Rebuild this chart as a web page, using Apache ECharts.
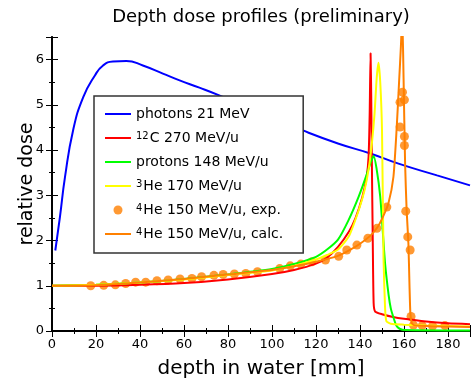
<!DOCTYPE html>
<html>
<head>
<meta charset="utf-8">
<script src="https://cdn.jsdelivr.net/npm/echarts@6/dist/echarts.min.js"></script>
<style>html,body{margin:0;padding:0;background:#fff}#c{width:471px;height:381px}</style>
</head>
<body>
<div id="c"></div>
<script>
// depth [mm], relative dose
const photons = [[1.5,1.78],[3.6,2.52],[5.9,3.4],[9.6,4.44],[14.2,5.17],[19.5,5.65],[23.2,5.87],[27.7,5.96],[33.8,5.97],[41.3,5.87],[50.4,5.69],[58,5.54],[67,5.38],[76,5.21],[90,4.92],[100,4.72],[113.7,4.44],[130.3,4.14],[145,3.92],[157.5,3.70],[175,3.44],[190,3.22]];
const carbon = [[0,1.0],[20,1.0],[40,1.02],[60,1.06],[80,1.14],[100,1.26],[110,1.35],[120,1.49],[125,1.62],[130,1.86],[135,2.2],[138,2.5],[141,2.95],[143,3.4],[143.9,3.85],[144.4,4.8],[144.8,6.14],[145.1,5.2],[145.4,3.7],[145.8,2.0],[146.2,0.62],[146.9,0.43],[150,0.37],[155,0.31],[160,0.27],[170,0.21],[180,0.17],[190,0.15]];
const protons = [[0,1.0],[20,1.02],[40,1.07],[60,1.15],[80,1.25],[100,1.37],[110,1.48],[120,1.64],[125,1.8],[130,2.02],[134.8,2.45],[139.4,2.97],[143,3.45],[145,3.75],[146.2,3.87],[147.5,3.6],[149.2,2.97],[150.5,2.1],[151.4,1.49],[153,0.8],[154,0.5],[155.2,0.3],[156.5,0.12],[158,0.05],[160.5,0.02],[190,0.01]];
const helium3 = [[0,1.0],[20,1.02],[40,1.07],[60,1.14],[80,1.24],[100,1.34],[110,1.44],[120,1.58],[125,1.68],[130,1.8],[135,2.1],[139.4,2.67],[142,3.1],[144,3.6],[145.5,4.2],[146.6,4.8],[147.6,5.6],[148.4,5.93],[149.2,5.5],[150,4.44],[150.7,1.6],[151.4,0.5],[152,0.22],[154,0.16],[160,0.14],[170,0.12],[180,0.11],[190,0.1]];
const helium4Exp = [[17.6,1.0],[23.5,1.01],[28.8,1.02],[33.5,1.05],[38,1.08],[42.6,1.08],[47.7,1.11],[52.8,1.13],[58.2,1.15],[63.6,1.16],[68,1.2],[73.6,1.23],[77.8,1.25],[82.9,1.26],[88.1,1.27],[93.4,1.31],[103.5,1.38],[108.3,1.44],[113.1,1.48],[118.2,1.53],[124.3,1.57],[130.3,1.65],[134,1.79],[138.6,1.9],[143.6,2.05],[147.7,2.27],[152.2,2.74],[158.2,4.51],[158.2,5.06],[159.3,5.28],[160.2,5.11],[160.2,4.3],[160.2,4.1],[160.8,2.65],[161.7,2.08],[162.8,1.79],[163.2,0.32],[164.3,0.13],[168.3,0.12],[173,0.11],[178.6,0.12]];
const helium4Calc = [[0,1.0],[20,1.01],[40,1.07],[60,1.15],[80,1.25],[100,1.35],[110,1.43],[120,1.53],[130,1.66],[135,1.78],[140,1.93],[145,2.12],[148,2.3],[150,2.48],[152.9,2.82],[155.2,3.41],[156.7,4.51],[157.8,5.54],[158.6,6.3],[159.2,7.0],[159.8,5.6],[160.5,3.7],[161.2,2.67],[162,1.94],[162.5,1.0],[162.9,0.39],[163.5,0.18],[164.5,0.13],[170,0.11],[180,0.10],[190,0.09]];

const seriesNames = ['photons 21 MeV','12C 270 MeV/u','protons 148 MeV/u','3He 170 MeV/u','4He 150 MeV/u, exp.','4He 150 MeV/u, calc.'];
const xTicks = [0,20,40,60,80,100,120,140,160,180];
const yTicks = [0,1,2,3,4,5,6];

const FONT = 'DejaVu Sans';
const chart = echarts.init(document.getElementById('c'), null, {renderer:'canvas'});
const axLine = {show:true, lineStyle:{color:'#000', width:1.5}};
function xAx(pos, interval, len, labels){
  return {type:'value', position:pos, min:0, max:190, interval:interval,
    axisLine:axLine, splitLine:{show:false},
    axisTick:{show:true, inside:true, length:len, lineStyle:{color:'#000', width:1}},
    axisLabel:{show:labels, margin:7, color:'#000', fontSize:13, fontFamily:FONT,
      formatter:v => xTicks.indexOf(v) >= 0 ? String(v) : ''},
    name: labels ? 'depth in water [mm]' : '', nameLocation:'middle', nameGap:28, nameMoveOverlap:false,
    nameTextStyle:{color:'#000', fontSize:20, fontFamily:FONT}};
}
function yAx(pos, interval, len, labels){
  return {type:'value', position:pos, min:0, max:6.5, interval:interval,
    axisLine:axLine, splitLine:{show:false},
    axisTick:{show:true, inside:true, length:len, lineStyle:{color:'#000', width:1}},
    axisLabel:{show:labels, margin:8, color:'#000', fontSize:13, fontFamily:FONT,
      formatter:v => yTicks.indexOf(v) >= 0 ? String(v) : ''},
    name: labels ? 'relative dose' : '', nameLocation:'middle', nameGap:15, nameMoveOverlap:false,
    nameTextStyle:{color:'#000', fontSize:19, fontFamily:FONT}};
}
function line(name, data, color, sm){
  return {name:name, type:'line', data:data, symbol:'none', smooth:sm,
    lineStyle:{color:color, width:2}, itemStyle:{color:color}, xAxisIndex:0, yAxisIndex:0, clip:true};
}
const legendData = seriesNames.map((n, i) => i === 4 ? {name:n} : {name:n, itemStyle:{opacity:0}});
chart.setOption({
  animation:false,
  backgroundColor:'#fff',
  title:{text:'Depth dose profiles (preliminary)', left:261, top:8, textAlign:'center', padding:0,
    textStyle:{color:'#000', fontSize:18, fontWeight:'normal', fontFamily:FONT}},
  grid:{left:52, right:1, top:37, bottom:50, containLabel:false, outerBoundsMode:'none'},
  xAxis:[xAx('bottom',20,6,true), xAx('bottom',10,3,false), xAx('top',20,6,false), xAx('top',10,3,false)],
  yAxis:[yAx('left',1,6,true), yAx('left',0.5,3,false), yAx('right',1,6,false), yAx('right',0.5,3,false)],
  legend:{orient:'vertical', left:94, top:96, padding:[11,20,12,10], itemWidth:26, itemHeight:9, itemGap:10,
    backgroundColor:'#fff', borderColor:'#333', borderWidth:1.5, borderRadius:0,
    data:legendData, selectedMode:false,
    formatter: n => { const m = n.match(/^(\d+)(.*)$/); return m ? '{sup|' + m[1] + '}' + m[2] : n; },
    textStyle:{color:'#000', fontSize:14, fontFamily:FONT,
      rich:{sup:{fontSize:10, fontFamily:FONT, color:'#000', verticalAlign:'top', padding:[0,1,0,0]}}}},
  series:[
    line(seriesNames[0], photons, '#0000ff', 0.5),
    line(seriesNames[1], carbon, '#ff0000', 0.2),
    line(seriesNames[2], protons, '#00ff00', 0.2),
    line(seriesNames[3], helium3, '#ffff00', 0.2),
    {name:seriesNames[4], type:'scatter', data:helium4Exp, symbol:'circle', symbolSize:9,
      itemStyle:{color:'#ff8000'}, xAxisIndex:0, yAxisIndex:0},
    line(seriesNames[5], helium4Calc, '#ff8000', 0.2)
  ]
});
</script>
</body>
</html>
